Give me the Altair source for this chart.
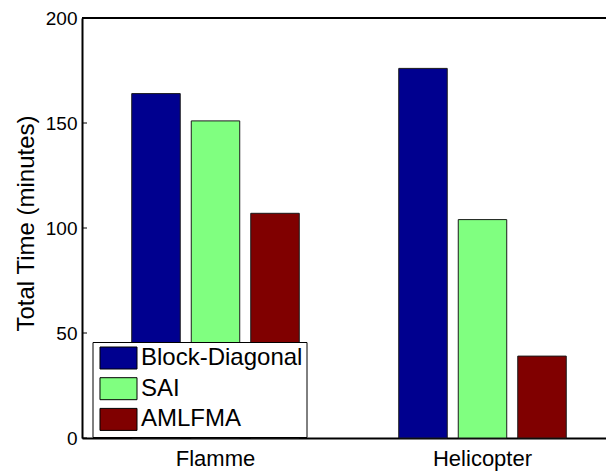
import altair as alt
import pandas as pd

datasets = ["Flamme", "Helicopter"]
methods = ["Block-Diagonal", "SAI", "AMLFMA"]
flamme_times = [164, 151, 107]
helicopter_times = [176, 104, 39]
colors = ["#00008F", "#80FF80", "#800000"]
y_ticks = [0, 50, 100, 150, 200]

rows = []
for m, v in zip(methods, flamme_times):
    rows.append({"dataset": "Flamme", "method": m, "time": v})
for m, v in zip(methods, helicopter_times):
    rows.append({"dataset": "Helicopter", "method": m, "time": v})
df = pd.DataFrame(rows)
ticks_df = pd.DataFrame({"v": y_ticks})

W, H = 524, 420       # visible plot area (the original box runs past the right edge)
FULL_W = 534          # full axis span of the original figure
FONT = "Liberation Sans"

bars = alt.Chart(df).mark_bar(stroke="#1a1a1a", strokeWidth=1).encode(
    x=alt.X("dataset:N", sort=datasets,
            scale=alt.Scale(paddingInner=0, paddingOuter=0, range=[0, FULL_W]),
            axis=alt.Axis(title=None, labelAngle=0, labelFontSize=22, labelColor="black",
                          labelFont=FONT, tickSize=0, labelPadding=10,
                          domain=True, domainColor="black", domainWidth=2)),
    xOffset=alt.XOffset("method:N", sort=methods,
                        scale=alt.Scale(paddingInner=0.185, paddingOuter=0.836)),
    y=alt.Y("time:Q", scale=alt.Scale(domain=[0, 200], nice=False),
            axis=alt.Axis(values=y_ticks, title="Total Time (minutes)", grid=False,
                          labelFontSize=19, labelColor="black", labelFont=FONT,
                          tickSize=0, labelPadding=5,
                          domain=True, domainColor="black", domainWidth=2,
                          titleFontSize=24, titleFontWeight="normal", titleColor="black",
                          titleFont=FONT, titlePadding=7, titleY=205)),
    color=alt.Color("method:N", sort=methods,
                    scale=alt.Scale(domain=methods, range=colors),
                    legend=alt.Legend(title=None, orient="none", legendX=10.5, legendY=324,
                                      symbolType="M-1.682,-1L1.682,-1L1.682,1L-1.682,1Z",
                                      symbolSize=484, symbolStrokeColor="black",
                                      symbolStrokeWidth=1, symbolOpacity=1,
                                      labelFontSize=24, labelFont=FONT, labelColor="black",
                                      labelLimit=0,
                                      padding=4, strokeColor="black", fillColor="white",
                                      symbolOffset=10, labelOffset=10.5, rowPadding=4.7)),
)

left_ticks = alt.Chart(ticks_df).mark_rule(color="black", strokeWidth=1).encode(
    y="v:Q", x=alt.value(0), x2=alt.value(5))

top_line = alt.Chart(ticks_df).mark_rule(color="black", strokeWidth=2).encode(
    y=alt.Y("max(v):Q"), x=alt.value(0), x2=alt.value(W))

chart = alt.layer(bars, left_ticks, top_line).properties(
    width=W, height=H,
    background="white",
    autosize=alt.AutoSizeParams(type="none"),
    padding={"left": 74, "top": 10, "right": 0, "bottom": 35},
).configure_view(stroke=None)

chart.save("out.html", embed_options={"renderer": "svg", "actions": False})
